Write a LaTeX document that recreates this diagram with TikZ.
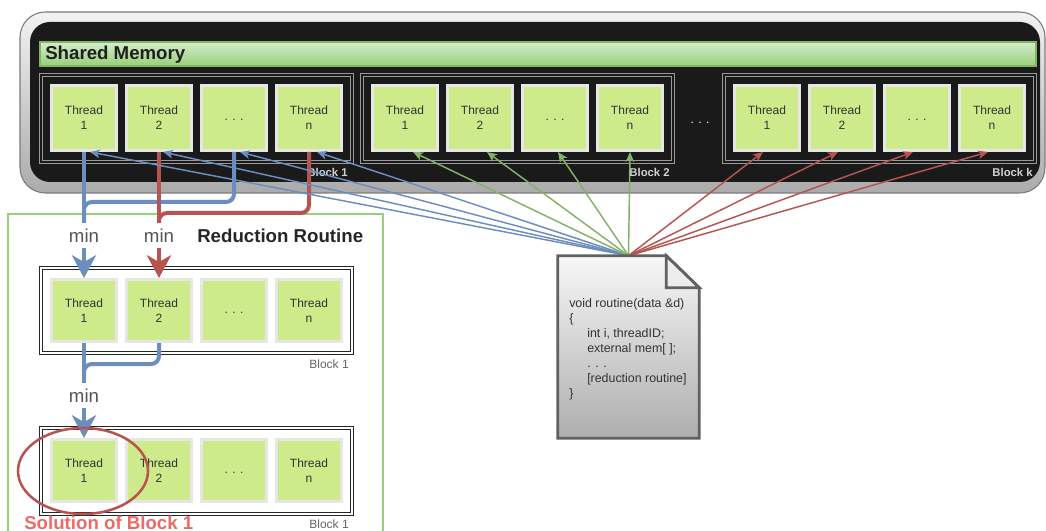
\documentclass[tikz,border=0pt]{standalone}
\usepackage{fontspec}
\setmainfont{Liberation Sans}
\usetikzlibrary{arrows.meta,calc}

\definecolor{cellgreen}{HTML}{CDEB8B}
\definecolor{cellrim}{HTML}{E6E6E6}
\definecolor{flowblue}{HTML}{6C8EBF}
\definecolor{flowred}{HTML}{B85450}
\definecolor{flowgreen}{HTML}{82B366}
\definecolor{boxgreen}{HTML}{97D077}
\definecolor{barlight}{HTML}{D5ECCD}
\definecolor{darkbg}{HTML}{1A1A1A}
\definecolor{txtdark}{HTML}{333333}
\definecolor{solred}{HTML}{EA6B66}
\definecolor{mingray}{HTML}{555555}
\definecolor{rimgray}{HTML}{7A7A7A}

\begin{document}
\begin{tikzpicture}[x=0.75pt,y=-0.75pt,
  cell/.style={draw=cellrim, fill=cellgreen, line width=2.25pt,
    minimum width=48.75pt, minimum height=48.75pt, inner sep=0pt,
    align=center, text=txtdark, font=\fontsize{9}{11.25}\selectfont},
  lowcell/.style={cell, minimum height=46.5pt},
  topframe/.style={draw=black!40, double=darkbg, double distance=1.5pt, line width=0.6pt},
  lowframe/.style={draw=black!85, double=white, double distance=1.5pt, line width=0.6pt},
  toplabel/.style={anchor=east, inner sep=0pt, text=black!18,
    font=\bfseries\fontsize{8.5}{10}\selectfont},
  lowlabel/.style={anchor=east, inner sep=0pt, text=black!60,
    font=\fontsize{9}{11}\selectfont},
  heading/.style={anchor=west, inner sep=0pt, font=\bfseries\fontsize{14}{17}\selectfont},
  fatline/.style={line width=3pt, rounded corners=6pt},
  fatarrow/.style={line width=3pt, -{Stealth[length=17pt,width=18pt,inset=5pt]}},
  minlabel/.style={fill=white, text=mingray, font=\fontsize{14}{17}\selectfont,
    inner xsep=1pt, inner ysep=0pt, minimum height=19pt},
  thinarrow/.style={line width=1.1pt, -{Stealth[length=7.5pt,width=6.5pt,inset=2pt]}},
  docline/.style={draw=black!62, line width=2.1pt, line join=miter}
]
\useasboundingbox (0,0) rectangle (1046,531);
\clip (0,0) rectangle (1046,531);

% device container with shared memory bar
\draw[draw=rimgray, line width=0.8pt, top color=black!5, bottom color=black!33,
  rounded corners=19pt] (20,12) rectangle (1045,193);
\fill[darkbg, rounded corners=15pt] (30,22) rectangle (1040,182);
\draw[draw=flowgreen, line width=1.1pt, top color=barlight, bottom color=boxgreen]
  (40,42) rectangle (1036,66);
\node[heading, text=black!88] (shared) at (45,54.5) {Shared Memory};

% block frames
\draw[topframe] (41,75) rectangle (352,162);
\draw[topframe] (362,75) rectangle (673,162);
\draw[topframe] (724,75) rectangle (1035,162);

% threads of the blocks
\foreach \blk/\x in {a/84,b/405,k/767}{
  \node[cell] (\blk1) at (\x,118) {Thread\\1};
  \node[cell] (\blk2) at (\x+75,118) {Thread\\2};
  \node[cell] (\blk3) at (\x+150,118) {\strut. . .};
  \node[cell] (\blk4) at (\x+225,118) {Thread\\n};
}
\node[toplabel] (blabel1) at (348,172) {Block 1};
\node[toplabel] (blabel2) at (670,172) {Block 2};
\node[toplabel] (blabelk) at (1033,172) {Block k};
\node[text=white, font=\fontsize{9}{11}\selectfont] (blockgap) at (700,121) {\strut. . .};

% reduction routine area
\draw[boxgreen, line width=2.2pt] (8,535) -- (8,214) -- (383,214) -- (383,535);
\node[heading, text=black!85] (redtitle) at (197,236) {Reduction Routine};

\draw[lowframe] (41,268) rectangle (352,353);
\draw[lowframe] (41,428) rectangle (352,514);
\foreach \blk/\y in {r/310.5,s/470.5}{
  \node[lowcell] (\blk1) at (84,\y) {Thread\\1};
  \node[lowcell] (\blk2) at (159,\y) {Thread\\2};
  \node[lowcell] (\blk3) at (234,\y) {\strut. . .};
  \node[lowcell] (\blk4) at (309,\y) {Thread\\n};
}
\node[lowlabel] (rlabel) at (349,364) {Block 1};
\node[lowlabel] (slabel) at (349,524) {Block 1};
\node[heading, text=solred] (solution) at (24,523) {Solution of Block 1};

% merging the partial minima
\coordinate (bluejoin) at (84,222);
\coordinate (redjoin) at (159,223);
\coordinate (lowjoin) at (84,380);

\draw[fatline, flowblue] (a3.south) |- ($(bluejoin)+(0,-20)$) -- (bluejoin);
\draw[fatarrow, flowblue] (a1.south) -- node[minlabel, pos=0.663] {min} (r1.north);
\draw[fatline, flowred] (a4.south) |- ($(redjoin)+(0,-10)$) -- (redjoin);
\draw[fatarrow, flowred] (a2.south) -- node[minlabel, pos=0.663] {min} (r2.north);
\draw[fatline, flowblue] (r2.south) |- ($(lowjoin)+(0,-16)$) -- (lowjoin);
\draw[fatarrow, flowblue] (r1.south) -- node[minlabel, pos=0.556] {min} (s1.north);

\draw[flowred, line width=1.9pt] (83,471) ellipse [x radius=48.75pt, y radius=32.25pt];

% kernel routine launched on every thread
\node[minimum width=105.75pt, minimum height=136.5pt, inner sep=0pt] (doc) at (628.5,347) {};

\foreach \c/\dx in {a1/6,a2/4,a3/6,a4/8}
  \draw[thinarrow, flowblue] (doc.north) -- ($(\c.south)+(\dx,0)$);
\foreach \c/\dx in {b1/8,b2/7,b3/3,b4/0}
  \draw[thinarrow, flowgreen] (doc.north) -- ($(\c.south)+(\dx,0)$);
\foreach \c/\dx in {k1/-4,k2/-4,k3/-4,k4/-4}
  \draw[thinarrow, flowred] (doc.north) -- ($(\c.south)+(\dx,0)$);

\draw[docline, top color=black!3, bottom color=black!32]
  (doc.north west) -- ($(doc.north east)+(-33,0)$) -- ($(doc.north east)+(0,32)$)
  -- (doc.south east) -- (doc.south west) -- cycle;
\draw[docline, fill=black!7] ($(doc.north east)+(-33,0)$) -- ++(0,32) -- ++(33,0) -- cycle;

\node[anchor=west, align=left, inner sep=0pt, text=txtdark,
  font=\fontsize{9.3}{11.25}\selectfont] (code) at (569,349.5)
  {void routine(data \&d)\\
   \{\\
   \hspace*{13.5pt}int i, threadID;\\
   \hspace*{13.5pt}external mem[ ];\\
   \hspace*{13.5pt}. . .\\
   \hspace*{13.5pt}[reduction routine]\\
   \}};
\end{tikzpicture}
\end{document}
